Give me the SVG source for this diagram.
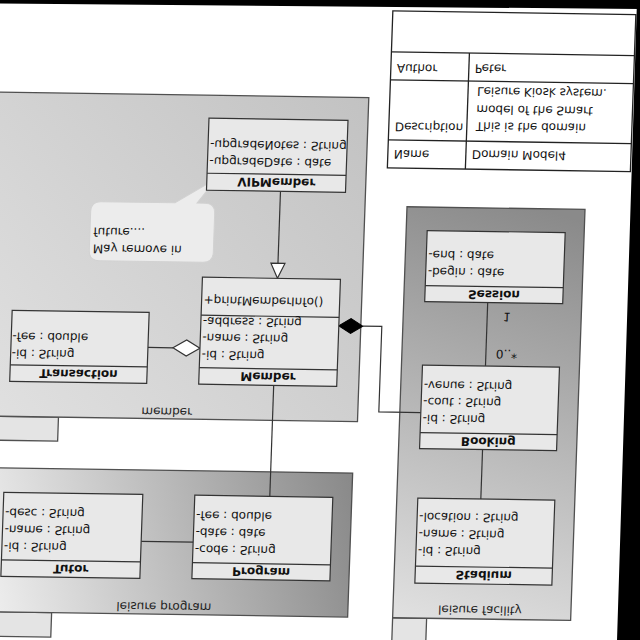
<svg xmlns="http://www.w3.org/2000/svg" width="640" height="640" viewBox="0 0 640 640">
<defs>
<style>
.pkg{stroke:#505050;stroke-width:1.3}
.tab{fill:#e4e4e4;stroke:#505050;stroke-width:1.3}
.box{fill:#e8e8e8;stroke:#333;stroke-width:1.2}
.ln{fill:none;stroke:#333;stroke-width:1.2}
.t{font-family:"DejaVu Sans",sans-serif;font-size:12px;fill:#111}
.b{font-family:"DejaVu Sans",sans-serif;font-size:12px;font-weight:bold;fill:#111;text-anchor:middle}
.pl{font-family:"DejaVu Sans",sans-serif;font-size:12px;fill:#222;text-anchor:middle}
.cell{fill:#fff;stroke:#222;stroke-width:1.3}
</style>
<linearGradient id="gMem" gradientUnits="userSpaceOnUse" x1="0" y1="219" x2="361" y2="543">
<stop offset="0" stop-color="#e0e0e0"/><stop offset="1" stop-color="#c2c2c2"/>
</linearGradient>
<linearGradient id="gProg" gradientUnits="userSpaceOnUse" x1="0" y1="50" x2="358" y2="150">
<stop offset="0" stop-color="#ededed"/><stop offset="1" stop-color="#8a8a8a"/>
</linearGradient>
<linearGradient id="gFac" gradientUnits="userSpaceOnUse" x1="420" y1="23" x2="540" y2="434">
<stop offset="0" stop-color="#e0e0e0"/><stop offset="1" stop-color="#8a8a8a"/>
</linearGradient>
</defs>
<rect width="640" height="640" fill="#fff"/>
<g transform="matrix(1,0.015,0.035,-1,-11.2,635.2)">
  <!-- packages -->
  <g id="pkg-member">
    <rect class="tab" x="-30" y="195" width="92" height="24"/>
    <rect class="pkg" fill="url(#gMem)" x="-30" y="219" width="391" height="324"/>
    <text class="pl" x="170" y="230">member</text>
  </g>
  <g id="pkg-program">
    <rect class="tab" x="-30" y="-1" width="92" height="24.5"/>
    <rect class="pkg" fill="url(#gProg)" x="-30" y="23.5" width="388" height="144"/>
    <text class="pl" x="174" y="35">leisure program</text>
  </g>
  <g id="pkg-facility">
    <rect class="tab" x="403" y="-1" width="34" height="24.5"/>
    <rect class="pkg" fill="url(#gFac)" x="403" y="23.5" width="178" height="411"/>
    <text class="pl" x="490" y="36.5">leisure facility</text>
  </g>

  <!-- note -->
  <g id="note">
    <path d="M97,376 H201 Q211,376 211,386 V425 Q211,435 201,435 H193 L212,460 L171,435 H97 Q87,435 87,425 V386 Q87,376 97,376 Z" fill="#ececec" stroke="#d2d2d2" stroke-width="1"/>
    <text class="t" x="90.5" y="392">May remove in</text>
    <text class="t" x="90.5" y="409">future....</text>
  </g>

  <!-- connectors -->
  <g id="connectors">
    <line class="ln" x1="276" y1="143" x2="276" y2="254"/>
    <line class="ln" x1="276" y1="448" x2="276" y2="376"/>
    <polygon points="276,361 269,376 283,376" fill="#fff" stroke="#333" stroke-width="1.2"/>
    <line class="ln" x1="149" y1="290" x2="174" y2="290"/>
    <polygon points="174,290 187.5,282 201,290 187.5,298" fill="#fff" stroke="#333" stroke-width="1.2"/>
    <polygon points="339,314.5 351,307 363,314.5 351,322" fill="#000" stroke="#000" stroke-width="1"/>
    <polyline class="ln" points="363,314.5 382,314.5 382,229 424,229"/>
    <line class="ln" x1="487" y1="276.5" x2="487" y2="340"/>
    <line class="ln" x1="487" y1="143" x2="487" y2="193"/>
    <line class="ln" x1="149" y1="96" x2="201" y2="96"/>
    <text class="t" x="497" y="293">0..*</text>
    <text class="t" x="503" y="330">1</text>
  </g>

  <!-- classes -->
  <g id="VIPMember">
    <rect class="box" x="202" y="448" width="139" height="72"/>
    <line class="ln" x1="202" y1="465" x2="341" y2="465"/>
    <text class="b" x="271.5" y="461">VIPMember</text>
    <text class="t" x="204" y="481">-upgradeDate : date</text>
    <text class="t" x="204" y="498">-upgradeNotes : String</text>
  </g>
  <g id="Member">
    <rect class="box" x="201" y="254" width="138" height="107"/>
    <line class="ln" x1="201" y1="270.5" x2="339" y2="270.5"/>
    <line class="ln" x1="201" y1="323" x2="339" y2="323"/>
    <text class="b" x="270" y="266.5">Member</text>
    <text class="t" x="203" y="287.5">-id : String</text>
    <text class="t" x="203" y="304.5">-name : String</text>
    <text class="t" x="203" y="321">-address : String</text>
    <text class="t" x="203" y="342">+printMemberInfo()</text>
  </g>
  <g id="Transaction">
    <rect class="box" x="12" y="254" width="137" height="71"/>
    <line class="ln" x1="12" y1="270.5" x2="149" y2="270.5"/>
    <text class="b" x="80.5" y="266.5">Transaction</text>
    <text class="t" x="13" y="286">-id : String</text>
    <text class="t" x="13" y="303">-fee : double</text>
  </g>
  <g id="Tutor">
    <rect class="box" x="10" y="59" width="139" height="84"/>
    <line class="ln" x1="10" y1="75.5" x2="149" y2="75.5"/>
    <text class="b" x="79.5" y="71.5">Tutor</text>
    <text class="t" x="12" y="93">-id : String</text>
    <text class="t" x="12" y="110">-name : String</text>
    <text class="t" x="12" y="127">-desc : String</text>
  </g>
  <g id="Program">
    <rect class="box" x="201" y="59.5" width="138" height="83.5"/>
    <line class="ln" x1="201" y1="75.5" x2="339" y2="75.5"/>
    <text class="b" x="270" y="71.5">Program</text>
    <text class="t" x="203" y="93">-code : String</text>
    <text class="t" x="203" y="110">-date : date</text>
    <text class="t" x="203" y="127">-fee : double</text>
  </g>
  <g id="Stadium">
    <rect class="box" x="424" y="58.5" width="137" height="85"/>
    <line class="ln" x1="424" y1="75.5" x2="561" y2="75.5"/>
    <text class="b" x="492.5" y="71.5">Stadium</text>
    <text class="t" x="426" y="95">-id : String</text>
    <text class="t" x="426" y="112">-name : String</text>
    <text class="t" x="426" y="129">-location : String</text>
  </g>
  <g id="Booking">
    <rect class="box" x="424" y="193" width="137" height="83.5"/>
    <line class="ln" x1="424" y1="209" x2="561" y2="209"/>
    <text class="b" x="492.5" y="205">Booking</text>
    <text class="t" x="426" y="227">-id : String</text>
    <text class="t" x="426" y="244">-cout : String</text>
    <text class="t" x="426" y="260.5">-venue : String</text>
  </g>
  <g id="Session">
    <rect class="box" x="424" y="340" width="138" height="71"/>
    <line class="ln" x1="424" y1="356" x2="562" y2="356"/>
    <text class="b" x="493" y="352">Session</text>
    <text class="t" x="426" y="374">-begin : date</text>
    <text class="t" x="426" y="391">-end : date</text>
  </g>

  <!-- info table -->
  <g id="info-table">
    <rect class="cell" x="382" y="473" width="243" height="157"/>
    <line class="cell" x1="382" y1="501" x2="625" y2="501"/>
    <line class="cell" x1="382" y1="561" x2="625" y2="561"/>
    <line class="cell" x1="382" y1="589" x2="625" y2="589"/>
    <line class="cell" x1="460" y1="473" x2="460" y2="589"/>
    <text class="t" x="388" y="491">Name</text>
    <text class="t" x="466" y="492">Domain Model4</text>
    <text class="t" x="388" y="518.5">Description</text>
    <text class="t" x="469" y="520">This is the domain</text>
    <text class="t" x="469" y="537">model of the Smart</text>
    <text class="t" x="469" y="555">Leisure Kiosk system.</text>
    <text class="t" x="388" y="577">Author</text>
    <text class="t" x="466" y="578">Peter</text>
  </g>
</g>
<polygon points="0,0 640,0 640,9 0,3.5" fill="#000"/>
<polygon points="637,0 640,0 640,640 617,640" fill="#000"/>
</svg>
